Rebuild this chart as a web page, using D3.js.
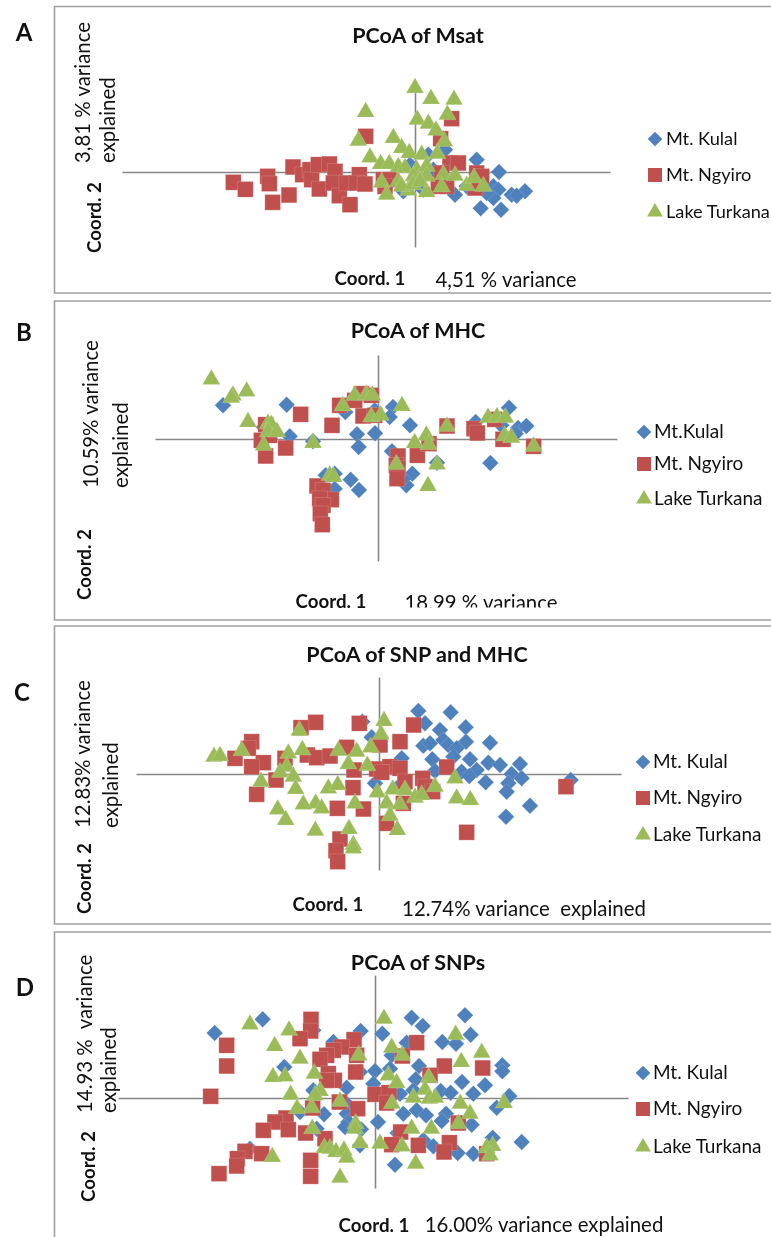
<!DOCTYPE html>
<html>
<head>
<meta charset="utf-8">
<script src="https://cdn.jsdelivr.net/npm/d3@7"></script>
<style>
  html, body { margin: 0; padding: 0; background: #fff; overflow: hidden; }
  svg { display: block; filter: blur(0.45px); }
  text { font-family: Lato, "Open Sans", sans-serif; fill: #111; }
</style>
</head>
<body>
<svg id="chart" width="771" height="1237"></svg>
<script>
// Scores as [coord 1, coord 2], in thirds of a pixel from the axis crossing
const msatKulal = [[40,52],[90,67],[185,37],[252,0],[120,-68],[197,-109],[258,-113],[330,-58],[290,-68],[305,-71],[235,-43],[250,-53],[235,-78],[215,-63],[-15,22],[-35,-58],[155,-43],[55,7],[25,-53]];
const msatNgyiro = [[-545,-31],[-509,-52],[-442,-13],[-437,-35],[-427,-91],[-378,-69],[-366,15],[-337,-8],[-315,7],[-310,-23],[-290,22],[-257,24],[-240,2],[-287,-51],[-245,-33],[-227,-71],[-205,-33],[-195,-98],[-167,-8],[-175,-33],[-150,-36],[-148,107],[110,160],[77,100],[-95,-23],[-75,-23],[-90,-43],[105,27],[130,27],[80,-3],[95,-43],[70,-43],[185,-3],[200,-13],[180,-48]];
const msatTurkana = [[0,252],[48,219],[117,217],[-148,180],[97,172],[7,157],[40,145],[63,125],[-65,102],[-170,94],[88,92],[-40,72],[-17,57],[-135,44],[-103,24],[-77,24],[-50,15],[20,52],[67,55],[-30,12],[5,7],[35,17],[-100,-31],[-85,-68],[-50,-28],[-5,-13],[35,-13],[85,-8],[120,-11],[80,-45],[155,-41],[177,-18],[205,-43],[35,-60],[-20,-55],[-40,-43],[-5,-38],[15,-28]];

const mhcKulal = [[-465,101],[-274,103],[-343,36],[-265,8],[-195,-7],[-98,81],[-63,14],[-9,17],[-58,-24],[-10,86],[45,96],[35,66],[96,41],[42,-37],[177,-71],[103,-104],[85,-139],[75,-119],[-157,-109],[-130,-104],[-82,-122],[-57,-153],[-130,-149],[293,51],[393,94],[420,33],[445,39],[413,16],[370,41],[337,-72]];
const mhcNgyiro = [[-50,136],[-20,131],[-70,116],[-115,101],[-232,74],[-138,41],[-45,69],[-10,71],[-337,43],[-350,-4],[-325,11],[-277,-27],[-337,-51],[60,-51],[55,-79],[60,-89],[57,-119],[118,-49],[153,-14],[207,39],[288,31],[298,18],[350,59],[375,-1],[467,-22],[-183,-141],[-165,-154],[-140,-182],[-175,-179],[-165,-199],[-173,-224],[-167,-257]];
const mhcTurkana = [[-500,179],[-435,131],[-440,124],[-394,143],[-390,51],[-330,46],[-320,43],[-330,21],[-303,21],[-343,-19],[-195,-12],[-106,99],[-70,131],[-35,133],[-17,131],[-20,66],[8,71],[72,99],[145,11],[110,-12],[152,-17],[207,38],[177,-76],[150,-141],[55,-76],[-145,-109],[-133,-114],[330,64],[357,66],[382,64],[380,9],[400,4],[467,-22]];

const snpMhcKulal = [[118,189],[215,185],[138,152],[260,140],[183,132],[193,102],[261,97],[333,94],[133,85],[153,92],[208,87],[233,77],[223,52],[160,44],[273,44],[68,47],[328,34],[363,27],[423,30],[168,9],[248,7],[293,12],[271,-6],[398,0],[428,-13],[320,-25],[388,-28],[383,-53],[453,-95],[381,-128],[575,-18],[-22,110],[-12,-28],[-50,157],[63,-33]];
const snpMhcNgyiro = [[-190,155],[-234,139],[-59,152],[104,147],[-382,97],[-392,77],[63,97],[3,87],[-97,80],[-432,47],[-347,34],[-382,22],[-282,47],[-215,57],[-187,49],[-147,54],[203,21],[-75,12],[-7,15],[33,22],[63,17],[8,5],[-309,-18],[-78,-41],[131,-13],[78,-23],[138,-38],[161,-53],[-367,-61],[-125,-103],[-47,-105],[73,-88],[23,-148],[263,-175],[-117,-195],[-129,-230],[-124,-263],[561,-38]];
const snpMhcTurkana = [[15,159],[6,119],[-239,130],[-495,52],[-477,54],[-412,70],[-272,62],[-230,72],[-122,70],[-67,67],[-25,80],[-92,30],[-35,25],[-277,22],[-297,5],[-257,-8],[-354,-23],[-250,-45],[-152,-43],[-124,-33],[228,-13],[-5,-55],[41,-46],[78,-48],[168,-38],[108,-71],[128,-63],[23,-88],[63,-91],[33,-125],[-72,-88],[-190,-88],[-227,-91],[-172,-103],[-304,-106],[-280,-138],[233,-73],[274,-78],[-191,-170],[-90,-165],[55,-168],[-77,-213],[-77,-223]];

const snpKulal = [[-481,195],[-337,236],[-185,203],[-125,168],[-43,201],[22,193],[110,241],[143,216],[270,248],[287,190],[202,168],[243,163],[95,166],[50,128],[-272,93],[382,98],[382,80],[132,96],[0,81],[45,88],[-45,78],[122,56],[261,48],[330,38],[-5,43],[-85,31],[-185,23],[115,23],[197,21],[227,16],[295,13],[403,6],[365,-29],[-85,-17],[125,-37],[153,-52],[85,-47],[-153,-49],[-225,-42],[213,-47],[200,-69],[9,-72],[-85,-47],[-80,-72],[-90,-87],[-42,-94],[290,-80],[68,-105],[353,-119],[440,-132],[-45,-142],[145,-127],[175,-145],[248,-165],[295,-167],[60,-200],[-375,-152],[-175,-92],[75,13]];
const snpNgyiro = [[-192,236],[-193,201],[-225,178],[-63,175],[-445,158],[-445,96],[-100,153],[-125,143],[-145,128],[-165,116],[-55,128],[125,166],[82,126],[208,96],[323,90],[165,68],[-58,78],[-140,73],[-122,53],[-145,53],[-493,5],[0,11],[42,16],[35,-15],[-107,-12],[-52,-32],[-187,-30],[-267,-60],[-300,-72],[-335,-97],[-260,-95],[-208,-105],[-150,-122],[250,-75],[77,-102],[50,-140],[130,-142],[223,-134],[207,-162],[-340,-167],[-390,-160],[-413,-182],[-415,-204],[-468,-227],[-193,-187],[-193,-235],[335,-167]];
const snpTurkana = [[-375,221],[-258,203],[-301,156],[-225,118],[-306,63],[-270,65],[-182,73],[-49,128],[27,238],[50,151],[82,128],[242,190],[320,136],[259,108],[40,68],[65,45],[161,61],[150,25],[-165,21],[-180,8],[-253,10],[115,1],[163,-2],[181,1],[51,-17],[-105,-10],[-190,-29],[-234,-32],[256,-17],[387,-15],[285,-47],[250,-77],[-58,-77],[-60,-92],[-188,-92],[110,-92],[169,-92],[-45,-135],[15,-137],[81,-145],[-152,-150],[-135,-152],[-117,-162],[-93,-157],[-85,-179],[-308,-177],[335,-150],[353,-144],[345,-172],[122,-197],[-105,-239]];

const colors = ["#4f81bd", "#c0504d", "#9bbb59"];
const symbols = [d3.symbolSquare, d3.symbolSquare, d3.symbolTriangle];
const symbolSizes = [135, 245, 135];
const symbolAngles = [45, 0, 0];

const panels = [
  { letter: "A", letterAt: [24, 41], title: "PCoA of Msat", titleAt: [418, 43],
    series: [msatKulal, msatNgyiro, msatTurkana], frame: [6.5, 293],
    xr: [122, 610], yr: [82, 247], cross: [415, 172],
    yLabels: [["3,81 % variance", 90, 163], ["explained", 115, 163]], coord2: [101, 253],
    coord1: [370, 285], xLabel: ["4,51 % variance", 506, 287],
    legendNames: ["Mt. Kulal", "Mt. Ngyiro", "Lake Turkana"], legendX: 655, legendY: [139, 175, 212], legendGap: 11, legendFont: 18.2 },
  { letter: "B", letterAt: [24, 341], title: "PCoA of MHC", titleAt: [418, 338],
    series: [mhcKulal, mhcNgyiro, mhcTurkana], frame: [301, 620],
    xr: [155, 617], yr: [355, 561], cross: [378, 439],
    yLabels: [["10.59% variance", 98, 488], ["explained", 128, 488]], coord2: [91, 600],
    coord1: [331, 608], xLabel: ["18.99 % variance", 481, 609.5], clipBelow: 607.5,
    legendNames: ["Mt.Kulal", "Mt. Ngyiro", "Lake Turkana"], legendX: 644, legendY: [432, 464, 499], legendGap: 10, legendFont: 19 },
  { letter: "C", letterAt: [22, 701], title: "PCoA of SNP and MHC", titleAt: [417, 662],
    series: [snpMhcKulal, snpMhcNgyiro, snpMhcTurkana], frame: [626, 924],
    xr: [136, 621], yr: [677, 870], cross: [379, 774],
    yLabels: [["12.83% variance", 90, 828], ["explained", 118, 828]], coord2: [91, 914],
    coord1: [328, 911], xLabel: ["12.74% variance  explained", 524, 916],
    legendNames: ["Mt. Kulal", "Mt. Ngyiro", "Lake Turkana"], legendX: 643, legendY: [762, 798, 835], legendGap: 10, legendFont: 19 },
  { letter: "D", letterAt: [25, 996], title: "PCoA of SNPs", titleAt: [418, 970],
    series: [snpKulal, snpNgyiro, snpTurkana], frame: [932, 1250],
    xr: [118, 628], yr: [975, 1188], cross: [375, 1098],
    yLabels: [["14.93 %  variance", 92, 1113], ["explained", 116, 1113]], coord2: [95, 1202],
    coord1: [374, 1232], xLabel: ["16.00% variance explained", 544, 1232],
    legendNames: ["Mt. Kulal", "Mt. Ngyiro", "Lake Turkana"], legendX: 643, legendY: [1073, 1109, 1147], legendGap: 10, legendFont: 19 }
];

const svg = d3.select("#chart");
const pxUnits = 3; // score units per pixel

panels.forEach(p => {
  const g = svg.append("g");
  const x = d3.scaleLinear()
    .domain(p.xr.map(v => (v - p.cross[0]) * pxUnits))
    .range(p.xr);
  const y = d3.scaleLinear()
    .domain(p.yr.map(v => (p.cross[1] - v) * pxUnits))
    .range(p.yr);

  // Axes cross at zero and carry no ticks
  const xAxis = g.append("g").attr("transform", `translate(0,${y(0)})`)
    .call(d3.axisBottom(x).tickValues([]).tickSize(0));
  const yAxis = g.append("g").attr("transform", `translate(${x(0)},0)`)
    .call(d3.axisLeft(y).tickValues([]).tickSize(0));
  [xAxis, yAxis].forEach(a => a.select(".domain").attr("stroke", "#868686").attr("stroke-width", 1.6));

  p.series.forEach((pts, i) => {
    const marker = d3.symbol().type(symbols[i]).size(symbolSizes[i])();
    g.append("g").selectAll("path")
      .data(pts)
      .enter()
      .append("path")
      .attr("d", marker)
      .attr("transform", d => `translate(${x(d[0])},${y(d[1])}) rotate(${symbolAngles[i]})`)
      .attr("fill", colors[i])
      .attr("stroke", "#fff")
      .attr("stroke-opacity", 0.2)
      .attr("stroke-width", 0.8);
  });

  // Legend
  p.legendNames.forEach((name, i) => {
    g.append("path")
      .attr("d", d3.symbol().type(symbols[i]).size(symbolSizes[i] * 0.8)())
      .attr("transform", `translate(${p.legendX},${p.legendY[i]}) rotate(${symbolAngles[i]})`)
      .attr("fill", colors[i]);
    g.append("text")
      .attr("x", p.legendX + p.legendGap)
      .attr("y", p.legendY[i] + 6)
      .attr("font-size", p.legendFont)
      .text(name);
  });

  g.append("text").attr("x", p.letterAt[0]).attr("y", p.letterAt[1])
    .attr("text-anchor", "middle").attr("font-size", 24).attr("font-weight", 700).text(p.letter);
  g.append("text").attr("x", p.titleAt[0]).attr("y", p.titleAt[1])
    .attr("text-anchor", "middle").attr("font-size", 21.5).attr("font-weight", 700).text(p.title);

  p.yLabels.forEach(l => {
    g.append("text").attr("transform", `translate(${l[1]},${l[2]}) rotate(-90)`)
      .attr("font-size", 20.4).style("white-space", "pre").text(l[0]);
  });
  g.append("text").attr("transform", `translate(${p.coord2[0]},${p.coord2[1]}) rotate(-90)`)
    .attr("font-size", 18.7).attr("font-weight", 700).text("Coord. 2");
  g.append("text").attr("x", p.coord1[0]).attr("y", p.coord1[1])
    .attr("text-anchor", "middle").attr("font-size", 18.7).attr("font-weight", 700).text("Coord. 1");
  g.append("text").attr("x", p.xLabel[1]).attr("y", p.xLabel[2])
    .attr("text-anchor", "middle").attr("font-size", 20.4).style("white-space", "pre").text(p.xLabel[0]);

  // The variance caption of panel B is cut off above the frame in the source
  if (p.clipBelow) {
    g.append("rect").attr("x", 390).attr("y", p.clipBelow).attr("width", 190).attr("height", 8).attr("fill", "#fff");
  }

  g.append("path")
    .attr("d", `M771,${p.frame[0]}H54.5V${p.frame[1]}H771`)
    .attr("fill", "none").attr("stroke", "#a0a0a0").attr("stroke-width", 1.6);
});
</script>
</body>
</html>
